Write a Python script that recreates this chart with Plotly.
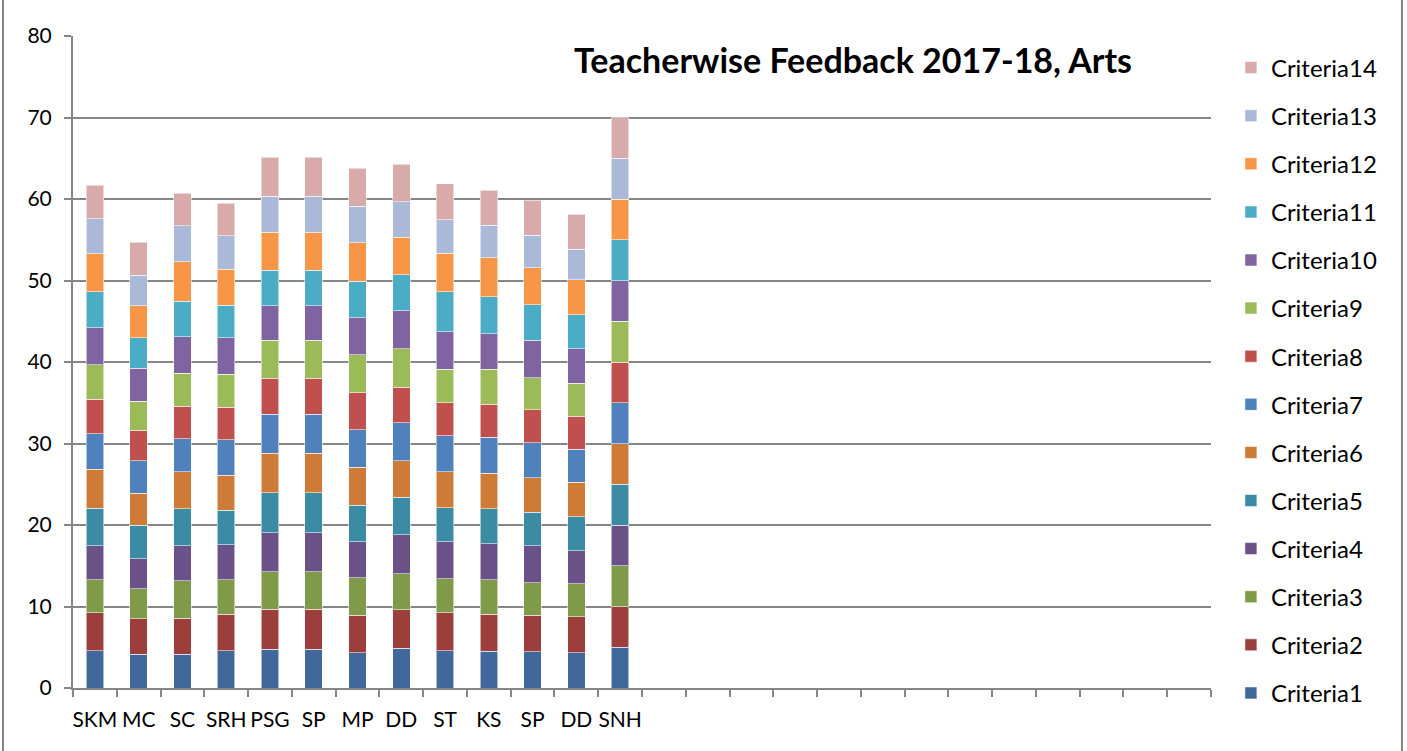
import plotly.graph_objects as go

teachers = ["SKM", "MC", "SC", "SRH", "PSG", "SP", "MP", "DD", "ST", "KS", "SP", "DD", "SNH"]
n_slots = 26  # category slots on the axis (13 used, rest empty)
criteria_names = ["Criteria1", "Criteria2", "Criteria3", "Criteria4", "Criteria5", "Criteria6", "Criteria7",
                  "Criteria8", "Criteria9", "Criteria10", "Criteria11", "Criteria12", "Criteria13", "Criteria14"]

c1 = [4.55, 4.13, 4.13, 4.55, 4.74, 4.74, 4.30, 4.86, 4.55, 4.50, 4.46, 4.30, 5]
c2 = [4.66, 4.35, 4.42, 4.49, 4.92, 4.92, 4.62, 4.72, 4.66, 4.54, 4.46, 4.42, 5]
c3 = [4.09, 3.68, 4.59, 4.26, 4.59, 4.59, 4.59, 4.42, 4.22, 4.23, 4.02, 4.09, 5]
c4 = [4.18, 3.69, 4.34, 4.27, 4.79, 4.79, 4.43, 4.80, 4.51, 4.42, 4.50, 4.06, 5]
c5 = [4.58, 4.13, 4.51, 4.25, 4.92, 4.92, 4.46, 4.62, 4.17, 4.30, 4.13, 4.17, 5]
c6 = [4.76, 3.93, 4.55, 4.26, 4.82, 4.82, 4.66, 4.47, 4.43, 4.34, 4.23, 4.22, 5]
c7 = [4.38, 3.98, 4.05, 4.39, 4.83, 4.83, 4.64, 4.67, 4.42, 4.42, 4.30, 4.02, 5]
c8 = [4.22, 3.76, 4.00, 4.00, 4.42, 4.42, 4.54, 4.37, 4.03, 4.09, 4.06, 4.09, 5]
c9 = [4.26, 3.52, 4.02, 4.02, 4.67, 4.67, 4.62, 4.67, 4.11, 4.26, 3.92, 4.01, 5]
c10 = [4.50, 4.09, 4.46, 4.46, 4.18, 4.18, 4.55, 4.71, 4.59, 4.39, 4.59, 4.22, 5]
c11 = [4.42, 3.69, 4.39, 4.02, 4.35, 4.35, 4.47, 4.38, 4.91, 4.54, 4.33, 4.22, 5]
c12 = [4.67, 3.93, 4.83, 4.42, 4.67, 4.67, 4.74, 4.59, 4.72, 4.75, 4.55, 4.30, 5]
c13 = [4.30, 3.77, 4.42, 4.09, 4.46, 4.46, 4.47, 4.38, 4.12, 3.98, 4.02, 3.73, 5]
c14 = [4.14, 4.02, 3.98, 4.02, 4.75, 4.75, 4.71, 4.59, 4.43, 4.33, 4.26, 4.26, 5]

series = [c1, c2, c3, c4, c5, c6, c7, c8, c9, c10, c11, c12, c13, c14]
colors = ["#41689B", "#9C3F3C", "#7F9A48", "#6A5187", "#3A8BA3", "#CD7B36", "#4F81BD",
          "#C0504D", "#9BBB59", "#8064A2", "#4BACC6", "#F79646", "#AAB9D7", "#D9AAAA"]

FONT = "Lato"
GRAY = "#868686"

x_pos = list(range(len(teachers)))

fig = go.Figure()
for i, (name, vals, col) in enumerate(zip(criteria_names, series, colors)):
    fig.add_trace(go.Bar(
        x=x_pos, y=vals, name=name, legendgroup=name,
        legendrank=100 - i,
        marker=dict(color=col, line=dict(color="rgba(255,255,255,0.55)", width=1)),
        width=0.4,
    ))

fig.update_layout(
    barmode="stack",
    width=1407, height=751,
    margin=dict(l=73, r=196, t=8, b=20, autoexpand=False),
    paper_bgcolor="white", plot_bgcolor="white",
    font=dict(family=FONT, size=20, color="#000000"),
    showlegend=True,
    legend=dict(
        traceorder="grouped", tracegroupgap=13.9,
        x=1.0175, xanchor="left", y=0.9481, yanchor="top",
        font=dict(family=FONT, size=24, color="#000000"),
        itemwidth=30, bgcolor="rgba(0,0,0,0)",
    ),
    xaxis=dict(
        automargin=False,
        range=[-0.5, n_slots - 0.5],
        tickmode="array", tickvals=x_pos, ticktext=teachers,
        ticks="", showgrid=False, zeroline=False,
        showline=True, linecolor=GRAY, linewidth=2,
        tickfont=dict(family=FONT, size=21, color="#000000"),
        ticklabelstandoff=12,
        minor=dict(tickvals=[i - 0.5 for i in range(n_slots + 1)], ticks="outside",
                   ticklen=7, tickcolor=GRAY, tickwidth=1.5, showgrid=False),
    ),
    yaxis=dict(
        automargin=False,
        domain=[0.05947, 0.96127],
        range=[0, 80], dtick=10, tick0=0,
        showgrid=True, gridcolor=GRAY, gridwidth=2,
        zeroline=False, showline=True, linecolor=GRAY, linewidth=2,
        ticks="outside", ticklen=7, tickcolor=GRAY, tickwidth=1.5,
        tickfont=dict(family=FONT, size=21, color="#000000"),
        ticklabelstandoff=8,
    ),
    annotations=[dict(
        text="<b>Teacherwise Feedback 2017-18, Arts</b>",
        xref="paper", yref="paper", x=0.685, y=0.9281,
        xanchor="center", yanchor="middle", showarrow=False,
        font=dict(family=FONT, size=34, color="#000000"),
    )],
    shapes=[
        dict(type="line", xref="paper", yref="paper", x0=-0.0615, x1=-0.0615, y0=-0.2, y1=1.2,
             line=dict(color=GRAY, width=2)),
        dict(type="line", xref="paper", yref="paper", x0=1.1678, x1=1.1678, y0=-0.2, y1=1.2,
             line=dict(color=GRAY, width=2)),
    ],
)

fig.write_html(
    "out.html",
    config={"displayModeBar": False},
    post_script="document.body.style.margin='0px'; document.body.style.overflow='hidden';",
)
